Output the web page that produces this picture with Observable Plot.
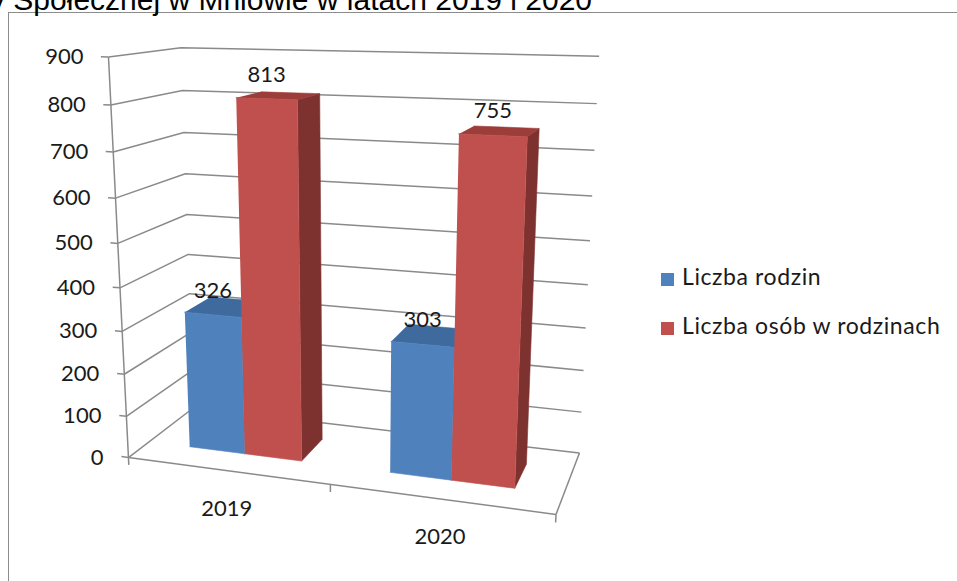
<!DOCTYPE html>
<html>
<head>
<meta charset="utf-8">
<script src="https://cdn.jsdelivr.net/npm/d3@7"></script>
<script src="https://cdn.jsdelivr.net/npm/@observablehq/plot@0.6"></script>
<style>
  html, body { margin: 0; padding: 0; background: #fff; }
  #wrap { position: relative; width: 957px; height: 581px; overflow: hidden; background: #fff; }
  #frame { position: absolute; left: 8px; top: 12px; width: 1000px; height: 700px; border: 1.5px solid #8c8c8c; box-sizing: border-box; }
  #title { position: absolute; left: -10px; top: -15.5px; font-family: "Liberation Sans", Arial, sans-serif; font-size: 30px; line-height: 30px; white-space: nowrap; color: #000; }
  #chart { position: absolute; left: 0; top: 0; }
  #legend { position: absolute; left: 661px; top: 261px; font-family: Lato, "Open Sans", sans-serif; font-size: 23px; letter-spacing: 0.6px; color: #1a1a1a; }
  .lg { position: relative; height: 49px; line-height: 30px; white-space: nowrap; }
  .sw { display: inline-block; width: 13px; height: 13px; margin-right: 8px; vertical-align: -1px; }
</style>
</head>
<body>
<div id="wrap">
  <div id="frame"></div>
  <div id="title">y Społecznej w Mniowie w latach 2019 i 2020</div>
  <div id="chart"></div>
  <div id="legend"></div>
</div>
<script>
// ---- data ----
const years = ["2019", "2020"];
const seriesNames = ["Liczba rodzin", "Liczba osób w rodzinach"];
const liczbaRodzin = [326, 303];
const liczbaOsob = [813, 755];
const yTicks = [0, 100, 200, 300, 400, 500, 600, 700, 800, 900];
const seriesValues = [liczbaRodzin, liczbaOsob];

// ---- style ----
const palette = {
  "Liczba rodzin": {front: "#4f81bd", top: "#3e6a9e", side: "#345a87"},
  "Liczba osób w rodzinach": {front: "#c0504d", top: "#9c3d3a", side: "#7e3230"}
};
const gridColor = "#8a8a8a";

// ---- 3D view (box of the chart, camera) ----
const world = {W: 975, H: 900, D: 345};
const camera = {yaw: 18, pitch: 14.5, focal: 1217, cx: 354, cy: 287, tx: -515.8, ty: -388, tz: 2777};
const rad = Math.PI / 180;
function project(X, Y, Z) {
  const cyw = Math.cos(camera.yaw * rad), syw = Math.sin(camera.yaw * rad);
  const cp = Math.cos(camera.pitch * rad), sp = Math.sin(camera.pitch * rad);
  const x1 = X * cyw + Z * syw, z1 = -X * syw + Z * cyw;
  const y2 = Y * cp + z1 * sp, z2 = -Y * sp + z1 * cp;
  const d = z2 + camera.tz;
  return [camera.cx + camera.focal * (x1 + camera.tx) / d, camera.cy - camera.focal * (y2 + camera.ty) / d];
}

// ---- Plot scales (category band, series band, value) ----
const xCat = Plot.scale({x: {type: "band", domain: years, range: [0, world.W], paddingInner: 3 / 7, paddingOuter: 3 / 14}});
const xSer = Plot.scale({x: {type: "band", domain: seriesNames, range: [0, xCat.bandwidth], padding: 0}});
const yVal = Plot.scale({y: {type: "linear", domain: [0, 900], range: [0, world.H]}});

const W = world.W, D = world.D;
const tickLen = 18;

// gridlines on the left and back walls
const gridRows = [];
for (const t of yTicks) {
  const h = yVal.apply(t);
  for (const [X, Z] of [[0, 0], [0, D], [W, D]]) {
    const [x, y] = project(X, h, Z);
    gridRows.push({tick: t, x, y});
  }
}
// floor front edge, floor right edge, value axis line, ticks
const axisRows = [];
function seg(id, a, b) {
  const p = project(...a), q = project(...b);
  axisRows.push({id, x: p[0], y: p[1]}, {id, x: q[0], y: q[1]});
}
seg("front", [0, 0, 0], [W, 0, 0]);
seg("right", [W, 0, 0], [W, 0, D]);
seg("axis", [0, 0, 0], [0, yVal.apply(900), 0]);
for (const t of yTicks) seg("yt" + t, [-tickLen, yVal.apply(t), 0], [0, yVal.apply(t), 0]);
[0, W / 2, W].forEach((X, i) => seg("xt" + i, [X, 0, 0], [X, -tickLen, 0]));

// bars as boxes
const bars = [];
years.forEach((yr, i) => seriesNames.forEach((s, j) => {
  const x0 = xCat.apply(yr) + xSer.apply(s), x1 = x0 + xSer.bandwidth;
  const z0 = D / 2 - xSer.bandwidth / 2, z1 = D / 2 + xSer.bandwidth / 2;
  bars.push({year: yr, series: s, value: seriesValues[j][i], x0, x1, z0, z1});
}));
const faceRows = [];
bars.forEach((b, k) => {
  const v = yVal.apply(b.value), c = palette[b.series];
  const faces = [
    ["side", c.side, [[b.x1, 0, b.z0], [b.x1, 0, b.z1], [b.x1, v, b.z1], [b.x1, v, b.z0]]],
    ["top", c.top, [[b.x0, v, b.z0], [b.x1, v, b.z0], [b.x1, v, b.z1], [b.x0, v, b.z1]]],
    ["front", c.front, [[b.x0, 0, b.z0], [b.x1, 0, b.z0], [b.x1, v, b.z0], [b.x0, v, b.z0]]]
  ];
  for (const [name, fill, pts] of faces) {
    for (const p of pts) {
      const [x, y] = project(...p);
      faceRows.push({face: k + "-" + name, fill, x, y});
    }
  }
});
const valueLabels = bars.map(b => {
  const [x, y] = project((b.x0 + b.x1) / 2, yVal.apply(b.value), b.z0);
  return {x, y, text: String(b.value)};
});
const tickLabels = yTicks.map(t => {
  const [x, y] = project(0, yVal.apply(t), 0);
  return {x, y, text: String(t)};
});
const catLabels = years.map(yr => {
  const [x, y] = project(xCat.apply(yr) + xCat.bandwidth / 2, 0, 0);
  return {x, y, text: yr};
});

const chart = Plot.plot({
  width: 957,
  height: 581,
  margin: 0,
  x: {type: "identity", axis: null},
  y: {type: "identity", axis: null},
  color: {type: "identity"},
  style: {background: "transparent", fontFamily: "Lato, 'Open Sans', sans-serif", color: "#1a1a1a"},
  marks: [
    Plot.line(gridRows, {x: "x", y: "y", z: "tick", stroke: gridColor, strokeWidth: 1.5, strokeLinecap: "butt"}),
    Plot.line(axisRows, {x: "x", y: "y", z: "id", stroke: gridColor, strokeWidth: 1.5, strokeLinecap: "butt"}),
    Plot.line(faceRows, {x: "x", y: "y", z: "face", fill: "fill", stroke: "fill", strokeWidth: 0.6}),
    Plot.text(valueLabels, {x: "x", y: "y", text: "text", dy: -24, fontSize: 22, fill: "#1a1a1a"}),
    Plot.text(tickLabels, {x: "x", y: "y", text: "text", dx: -25, textAnchor: "end", fontSize: 22, fill: "#1a1a1a"}),
    Plot.text(catLabels, {x: "x", y: "y", text: "text", dy: 38, fontSize: 22, fill: "#1a1a1a"})
  ]
});
document.getElementById("chart").appendChild(chart);

// legend
const legend = document.getElementById("legend");
seriesNames.forEach(s => {
  const row = document.createElement("div");
  row.className = "lg";
  const sw = document.createElement("span");
  sw.className = "sw";
  sw.style.background = palette[s].front;
  row.appendChild(sw);
  row.appendChild(document.createTextNode(s));
  legend.appendChild(row);
});
</script>
</body>
</html>
